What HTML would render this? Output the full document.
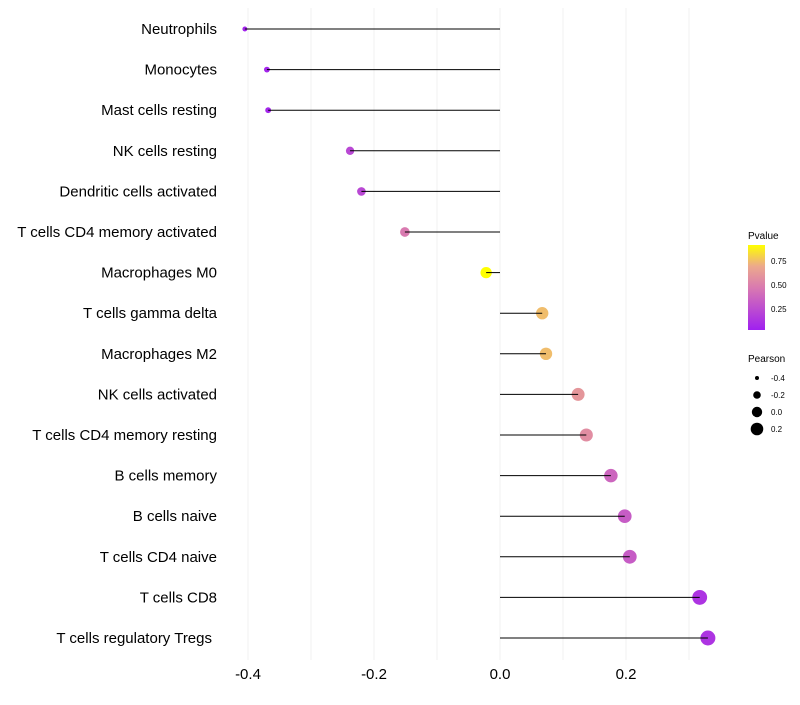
<!DOCTYPE html>
<html><head><meta charset="utf-8"><style>
html,body{margin:0;padding:0;background:#fff;}
svg text{font-family:"Liberation Sans",sans-serif;}
</style></head><body>
<svg id="chart" width="800" height="700" xmlns="http://www.w3.org/2000/svg">
<defs><linearGradient id="pg" x1="0" y1="1" x2="0" y2="0">
<stop offset="0" stop-color="#a020f0"/><stop offset="0.5" stop-color="#d97ab0"/><stop offset="0.75" stop-color="#eca98c"/><stop offset="1" stop-color="#ffff00"/></linearGradient></defs>
<g id="grid"></g>
<g id="marks"></g>
<g id="labels"></g>
<g id="ticks"></g>
<g>
<text x="748" y="239" font-size="10">Pvalue</text>
<rect x="748" y="245" width="17" height="85" fill="url(#pg)"/>
<text x="771" y="264" font-size="8">0.75</text>
<text x="771" y="288" font-size="8">0.50</text>
<text x="771" y="312" font-size="8">0.25</text>
</g>
<g>
<text x="748" y="362" font-size="10">Pearson</text>
<circle cx="757" cy="378" r="2" fill="#000"/>
<text x="771" y="381" font-size="8">-0.4</text>
<circle cx="757" cy="395" r="3.8" fill="#000"/>
<text x="771" y="398" font-size="8">-0.2</text>
<circle cx="757" cy="412" r="5.2" fill="#000"/>
<text x="771" y="415" font-size="8">0.0</text>
<circle cx="757" cy="429" r="6.3" fill="#000"/>
<text x="771" y="432" font-size="8">0.2</text>
</g>
</svg>
<script>
const categories=["Neutrophils","Monocytes","Mast cells resting","NK cells resting","Dendritic cells activated","T cells CD4 memory activated","Macrophages M0","T cells gamma delta","Macrophages M2","NK cells activated","T cells CD4 memory resting","B cells memory","B cells naive","T cells CD4 naive","T cells CD8","T cells regulatory  Tregs"];
const pearson=[-0.405,-0.37,-0.368,-0.238,-0.22,-0.151,-0.022,0.067,0.073,0.124,0.137,0.176,0.198,0.206,0.317,0.33];
const pvalues=[0.02,0.03,0.03,0.2,0.2,0.45,0.92,0.75,0.75,0.6,0.55,0.35,0.3,0.3,0.1,0.1];
const xTicks=[-0.4,-0.2,0.0,0.2];
const xTickLabels=["-0.4","-0.2","0.0","0.2"];
const gridVals=[-0.4,-0.3,-0.2,-0.1,0,0.1,0.2,0.3];
const NS="http://www.w3.org/2000/svg";
const x=v=>500+v*630;
const y=i=>29+i*40.6;
const rad=v=>Math.sqrt(6+68*(v+0.405));
function lerp(a,b,t){return a.map((c,k)=>Math.round(c+(b[k]-c)*t));}
const stops=[[0,[160,32,240]],[0.45,[217,122,176]],[0.7,[236,169,140]],[0.92,[255,255,0]]];
function col(p){p=Math.max(0,Math.min(0.92,p));for(let k=0;k<stops.length-1;k++){if(p<=stops[k+1][0]){const t=(p-stops[k][0])/(stops[k+1][0]-stops[k][0]);const c=lerp(stops[k][1],stops[k+1][1],t);return `rgb(${c})`;}}return "rgb(255,255,0)";}
function mk(tag,at,parent){const e=document.createElementNS(NS,tag);for(const k in at)e.setAttribute(k,at[k]);parent.appendChild(e);return e;}
const grid=document.getElementById('grid'),marks=document.getElementById('marks'),labels=document.getElementById('labels'),ticks=document.getElementById('ticks');
gridVals.forEach(v=>{const l=mk('line',{x1:x(v),x2:x(v),y1:8,y2:660,stroke:'#f0f0f0','stroke-width':1},grid);

});
categories.forEach((c,i)=>{
const cc=mk('circle',{cx:x(pearson[i]),cy:y(i),r:rad(pearson[i]),fill:col(pvalues[i])},marks);


const ln=mk('line',{x1:x(pearson[i]),x2:x(0),y1:y(i),y2:y(i),stroke:'#000','stroke-width':1},marks);


const t=mk('text',{x:(i===15?212:217),y:y(i)+5,'text-anchor':'end','font-size':15,fill:'#000'},labels);t.textContent=c;


});
xTicks.forEach((v,i)=>{const t=mk('text',{x:x(v),y:679,'text-anchor':'middle','font-size':15,fill:'#000'},ticks);t.textContent=xTickLabels[i];

});
</script>
</body></html>
